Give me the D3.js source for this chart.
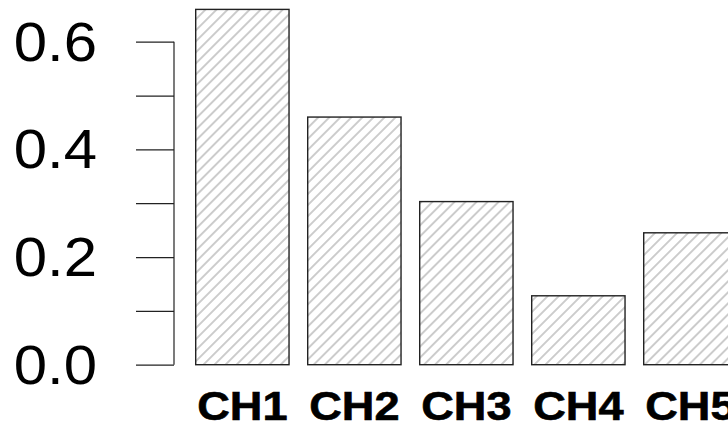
<!DOCTYPE html>
<html>
<head>
<meta charset="utf-8">
<script src="https://cdn.jsdelivr.net/npm/d3@7"></script>
<style>
  html, body { margin: 0; padding: 0; background: #fff; }
  svg { display: block; }
  text { font-family: "Liberation Sans", Arial, Helvetica, sans-serif; fill: #000; }
</style>
</head>
<body>
<svg id="chart" width="728" height="427"></svg>
<script>
// Channel proportions
const categories = ["CH1", "CH2", "CH3", "CH4", "CH5"];
const values = [0.66, 0.46, 0.303, 0.128, 0.245];
const majorTicks = [0, 0.2, 0.4, 0.6];
const minorTicks = [0.1, 0.3, 0.5];
const tickLabels = ["0.0", "0.2", "0.4", "0.6"];

const svg = d3.select("#chart");

// Layout
const barLeft = 195.7;
const step = 112;
const axisX = 174;
const tickLen = 38;

const x = d3.scaleBand()
  .domain(categories)
  .range([barLeft, barLeft + step * (categories.length - 1 / 6)])
  .paddingInner(1 / 6)
  .paddingOuter(0);

const y = d3.scaleLinear()
  .domain([0, 0.6])
  .range([364.7, 41.7]);

// Diagonal hatch fill
const hs = 7.8;
const defs = svg.append("defs");
const pat = defs.append("pattern")
  .attr("id", "hatch")
  .attr("patternUnits", "userSpaceOnUse")
  .attr("width", hs)
  .attr("height", hs)
  .attr("patternTransform", "rotate(45)");
pat.append("rect").attr("width", hs).attr("height", hs).attr("fill", "#fff");
pat.append("line")
  .attr("x1", hs / 2).attr("y1", 0).attr("x2", hs / 2).attr("y2", hs)
  .attr("stroke", "#b2b2b2").attr("stroke-width", 1.3);

// Bars
svg.append("g").selectAll("rect")
  .data(categories.map((c, i) => ({ c, v: values[i] })))
  .join("rect")
  .attr("x", d => x(d.c))
  .attr("y", d => y(d.v))
  .attr("width", x.bandwidth())
  .attr("height", d => y(0) - y(d.v))
  .attr("fill", "url(#hatch)")
  .attr("stroke", "#222")
  .attr("stroke-width", 1.4);

// Y axis: major ticks labelled, minor ticks unlabelled
const axis = d3.axisLeft(y)
  .tickValues(majorTicks.concat(minorTicks).sort((a, b) => a - b))
  .tickSize(tickLen)
  .tickSizeOuter(0)
  .tickFormat(() => "");
const gAxis = svg.append("g")
  .attr("transform", `translate(${axisX},0)`)
  .call(axis);
gAxis.select(".domain")
  .attr("d", `M0,${y(0)}V${y(0.6)}`)
  .attr("stroke", "#222").attr("stroke-width", 1.2);
gAxis.selectAll(".tick line").attr("stroke", "#222").attr("stroke-width", 1.2);

// Tick labels
svg.append("g").selectAll("text")
  .data(majorTicks)
  .join("text")
  .attr("transform", d => `translate(97,${y(d) + 19}) scale(1.07,1)`)
  .attr("text-anchor", "end")
  .attr("font-size", 56)
  .text((d, i) => tickLabels[i]);

// Category labels
svg.append("g").selectAll("text")
  .data(categories)
  .join("text")
  .attr("transform", d => `translate(${x(d) + x.bandwidth() / 2},419.5) scale(1.13,1)`)
  .attr("text-anchor", "middle")
  .attr("font-size", 40)
  .attr("font-weight", "bold")
  .attr("stroke", "#000")
  .attr("stroke-width", 0.6)
  .text(d => d);
</script>
</body>
</html>
